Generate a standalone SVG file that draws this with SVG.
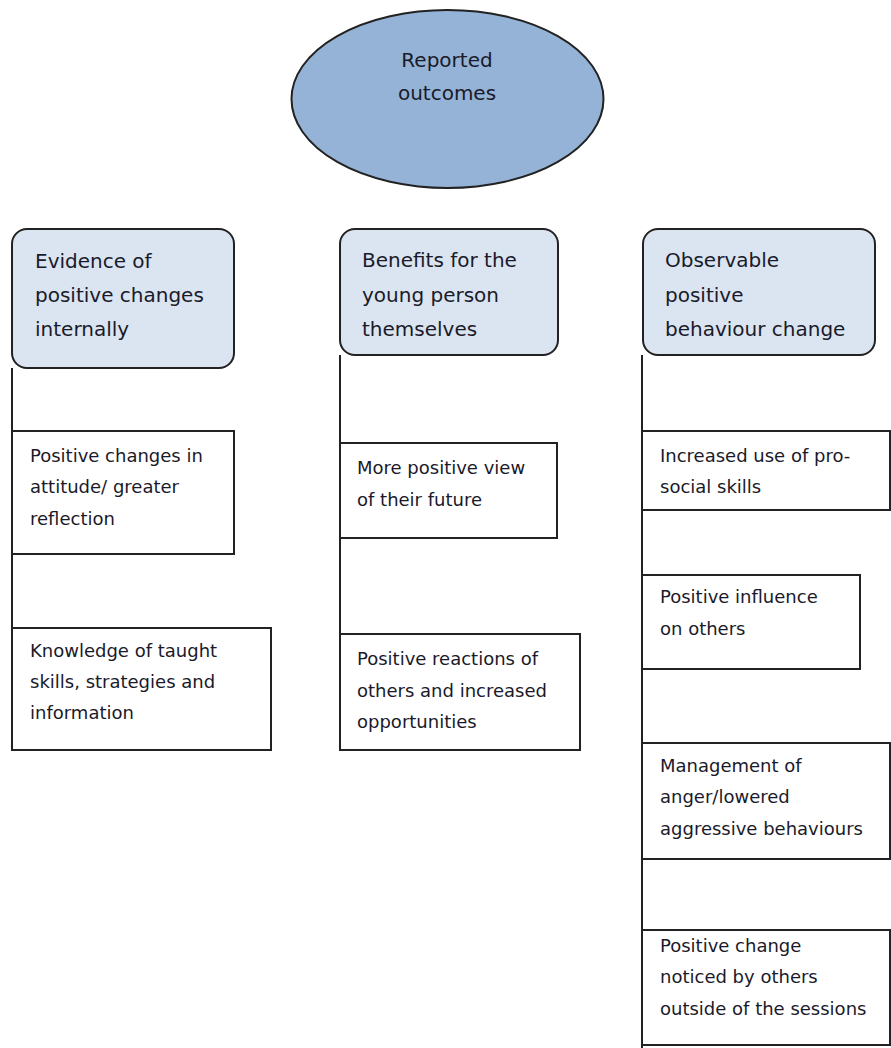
<svg xmlns="http://www.w3.org/2000/svg" width="891" height="1048" viewBox="0 0 891 1048">
<style>
.hdr{fill:#dbe5f1;stroke:#222;stroke-width:2}
.box{fill:#fff;stroke:#222;stroke-width:2}
.ln{stroke:#222;stroke-width:2;fill:none}
.th{font-family:"DejaVu Sans",sans-serif;font-size:20px;fill:#1a1a2a}
.tb{font-family:"DejaVu Sans",sans-serif;font-size:18px;fill:#1a1a2a}
</style>
<rect width="891" height="1048" fill="#fff"/>
<g id="connectors">
<line class="ln" x1="12" y1="368" x2="12" y2="750"/>
<line class="ln" x1="340" y1="355" x2="340" y2="750"/>
<line class="ln" x1="642" y1="355" x2="642" y2="1048"/>
</g>
<g id="root">
<ellipse cx="447.5" cy="99" rx="156" ry="89" fill="#95b3d7" stroke="#222" stroke-width="2"/>
<text class="th" x="447" y="67" text-anchor="middle">Reported</text>
<text class="th" x="447" y="100" text-anchor="middle">outcomes</text>
</g>
<g id="h1">
<rect class="hdr" x="12" y="229" width="222" height="139" rx="15"/>
<text class="th" x="35" y="268">Evidence of</text>
<text class="th" x="35" y="302">positive changes</text>
<text class="th" x="35" y="336">internally</text>
</g>
<g id="h2">
<rect class="hdr" x="340" y="229" width="218" height="126" rx="15"/>
<text class="th" x="362" y="267">Benefits for the</text>
<text class="th" x="362" y="302">young person</text>
<text class="th" x="362" y="336">themselves</text>
</g>
<g id="h3">
<rect class="hdr" x="643" y="229" width="232" height="126" rx="15"/>
<text class="th" x="665" y="267">Observable</text>
<text class="th" x="665" y="302">positive</text>
<text class="th" x="665" y="336">behaviour change</text>
</g>
<g id="n1">
<rect class="box" x="12" y="431" width="222" height="123"/>
<text class="tb" x="30" y="462">Positive changes in</text>
<text class="tb" x="30" y="493">attitude/ greater</text>
<text class="tb" x="30" y="525">reflection</text>
</g>
<g id="n2">
<rect class="box" x="12" y="628" width="259" height="122"/>
<text class="tb" x="30" y="657">Knowledge of taught</text>
<text class="tb" x="30" y="688">skills, strategies and</text>
<text class="tb" x="30" y="719">information</text>
</g>
<g id="n3">
<rect class="box" x="340" y="443" width="217" height="95"/>
<text class="tb" x="357" y="474">More positive view</text>
<text class="tb" x="357" y="506">of their future</text>
</g>
<g id="n4">
<rect class="box" x="340" y="634" width="240" height="116"/>
<text class="tb" x="357" y="665">Positive reactions of</text>
<text class="tb" x="357" y="697">others and increased</text>
<text class="tb" x="357" y="728">opportunities</text>
</g>
<g id="n5">
<rect class="box" x="642" y="431" width="248" height="79"/>
<text class="tb" x="660" y="462">Increased use of pro-</text>
<text class="tb" x="660" y="493">social skills</text>
</g>
<g id="n6">
<rect class="box" x="642" y="575" width="218" height="94"/>
<text class="tb" x="660" y="603">Positive influence</text>
<text class="tb" x="660" y="635">on others</text>
</g>
<g id="n7">
<rect class="box" x="642" y="743" width="248" height="116"/>
<text class="tb" x="660" y="772">Management of</text>
<text class="tb" x="660" y="803">anger/lowered</text>
<text class="tb" x="660" y="835">aggressive behaviours</text>
</g>
<g id="n8">
<rect class="box" x="642" y="930" width="248" height="115"/>
<text class="tb" x="660" y="952">Positive change</text>
<text class="tb" x="660" y="983">noticed by others</text>
<text class="tb" x="660" y="1015">outside of the sessions</text>
</g>
</svg>
